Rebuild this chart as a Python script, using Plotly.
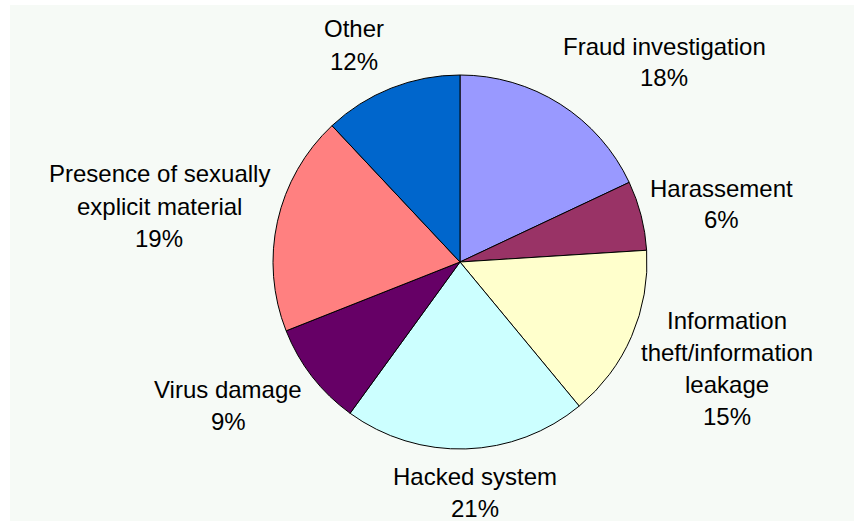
import plotly.graph_objects as go

# Categories (clockwise from 12 o'clock) and their shares in percent
categories = [
    "Fraud investigation",
    "Harassement",
    "Information theft/information leakage",
    "Hacked system",
    "Virus damage",
    "Presence of sexually explicit material",
    "Other",
]
shares = [18, 6, 15, 21, 9, 19, 12]
colors = ["#9999FF", "#993366", "#FFFFCC", "#CCFFFF", "#660066", "#FF8080", "#0066CC"]

# How each category name is wrapped in its label
label_lines = [
    ["Fraud investigation"],
    ["Harassement"],
    ["Information", "theft/information", "leakage"],
    ["Hacked system"],
    ["Virus damage"],
    ["Presence of sexually", "explicit material"],
    ["Other"],
]

W, H = 854, 521
CX, CY, R = 460, 262, 187

# Pixel anchor (centre of first line) for each label block
label_anchor = [
    (664, 46),
    (721, 188),
    (727, 320),
    (475, 476),
    (228, 389),
    (159, 174),
    (354, 29),
]
LINE_STEP = 32
FONT = dict(family="Liberation Sans, Arial, sans-serif", size=24, color="#000000")

fig = go.Figure(
    go.Pie(
        labels=categories,
        values=shares,
        sort=False,
        direction="clockwise",
        rotation=0,
        marker=dict(colors=colors, line=dict(color="#000000", width=1)),
        textinfo="none",
        hoverinfo="label+percent",
        showlegend=False,
        domain=dict(
            x=[(CX - R) / W, (CX + R) / W],
            y=[1 - (CY + R) / H, 1 - (CY - R) / H],
        ),
    )
)

annotations = []
for lines, share, (ax, ay) in zip(label_lines, shares, label_anchor):
    for i, txt in enumerate(lines + [f"{share}%"]):
        annotations.append(
            dict(
                text=txt,
                x=ax / W,
                y=1 - (ay + i * LINE_STEP) / H,
                xref="paper",
                yref="paper",
                xanchor="center",
                yanchor="middle",
                showarrow=False,
                font=FONT,
            )
        )

fig.update_layout(
    width=W,
    height=H,
    margin=dict(l=0, r=0, t=0, b=0),
    paper_bgcolor="#FFFFFF",
    plot_bgcolor="#FFFFFF",
    annotations=annotations,
    shapes=[
        dict(
            type="rect",
            xref="paper",
            yref="paper",
            x0=10 / W,
            x1=1,
            y0=0,
            y1=1 - 5 / H,
            fillcolor="#F6FAF6",
            line=dict(width=0),
            layer="below",
        )
    ],
)

fig.write_html("out.html")
